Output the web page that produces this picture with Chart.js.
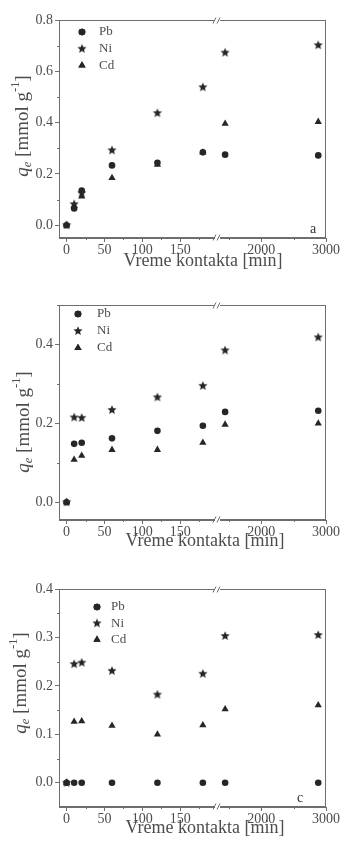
<!DOCTYPE html>
<html lang="sr">
<head>
<meta charset="UTF-8">
<title>Vreme kontakta</title>
<script src="https://cdn.jsdelivr.net/npm/chart.js@4.4.1/dist/chart.umd.min.js"></script>
<style>
  body { margin: 0; background: #fff; }
  .panel { position: absolute; left: 0; width: 345px; }
  canvas { display: block; }
</style>
</head>
<body>
<div class="panel" style="top:0"><canvas id="chartA" width="345" height="280"></canvas></div>
<div class="panel" style="top:280px"><canvas id="chartB" width="345" height="280"></canvas></div>
<div class="panel" style="top:560px"><canvas id="chartC" width="345" height="285"></canvas></div>

<script>
// contact time [min]
const times = [0, 10, 20, 60, 120, 180, 1440, 2880];
const breakTime = 200;   // x axis is broken after 200 min

// q [mmol/g], panel a
const pbA = [0.0, 0.065, 0.135, 0.233, 0.243, 0.284, 0.275, 0.272];
const niA = [0.0, 0.082, 0.125, 0.292, 0.437, 0.538, 0.673, 0.702];
const cdA = [0.0, 0.075, 0.112, 0.184, 0.236, 0.284, 0.396, 0.403];
// panel b
const pbB = [0.0, 0.148, 0.151, 0.162, 0.181, 0.194, 0.229, 0.232];
const niB = [0.0, 0.215, 0.214, 0.234, 0.266, 0.295, 0.385, 0.418];
const cdB = [0.0, 0.108, 0.118, 0.133, 0.133, 0.151, 0.197, 0.200];
// panel c
const pbC = [0.0, 0.0, 0.0, 0.0, 0.0, 0.0, 0.0, 0.0];
const niC = [0.0, 0.245, 0.248, 0.231, 0.182, 0.225, 0.303, 0.305];
const cdC = [0.0, 0.126, 0.127, 0.118, 0.100, 0.119, 0.152, 0.160];

const metals = ['Pb', 'Ni', 'Cd'];
const leftTickLabels = [0, 50, 100, 150];
const rightTickLabels = [2000, 3000];
const yLabelsA = [0.0, 0.2, 0.4, 0.6, 0.8];
const yLabelsB = [0.0, 0.2, 0.4];
const yLabelsC = [0.0, 0.1, 0.2, 0.3, 0.4];

const serif = "'Liberation Serif', 'DejaVu Serif', serif";
const axisColor = '#6e6e6e';
const textColor = '#4d4d4d';
const markerColor = '#262626';

// filled five point star, Chart.js only has the line version
function makeStar(r, color) {
    const c = document.createElement('canvas');
    const s = Math.ceil(r * 2) + 2;
    c.width = c.height = s;
    const g = c.getContext('2d');
    g.fillStyle = color;
    g.beginPath();
    for (let i = 0; i < 10; i++) {
        const rr = i % 2 ? r * 0.45 : r;
        const a = -Math.PI / 2 + i * Math.PI / 5;
        g.lineTo(s / 2 + rr * Math.cos(a), s / 2 + rr * Math.sin(a));
    }
    g.closePath();
    g.fill();
    return c;
}

const pointStyles = { Pb: 'circle', Ni: makeStar(4.8, markerColor), Cd: 'triangle' };
const pointSizes = { Pb: 3.3, Ni: 4.5, Cd: 4.2 };

function seriesData(values, left) {
    return times.map((t, i) => ({ x: t, y: values[i] }))
        .filter(p => left ? p.x <= breakTime : p.x > breakTime);
}

// every metal gets one dataset per axis segment
function buildDatasets(series) {
    const out = [];
    metals.forEach((m, k) => {
        ['xL', 'xR'].forEach(axis => {
            out.push({
                label: m,
                data: seriesData(series[k], axis === 'xL'),
                xAxisID: axis,
                yAxisID: 'y',
                pointStyle: pointStyles[m],
                pointRadius: pointSizes[m],
                backgroundColor: markerColor,
                borderColor: markerColor,
                borderWidth: 0,
                showLine: false
            });
        });
    });
    return out;
}

function inList(list, v) {
    return list.some(l => Math.abs(l - v) < 1e-6);
}

// major + minor tick positions; the narrow segments would otherwise get thinned out
function stepTicks(from, to, step) {
    const t = [];
    for (let v = from; v <= to + step / 1000; v += step) {
        t.push({ value: Math.round(v * 1000) / 1000 });
    }
    return t;
}

function drawRich(ctx, runs, size) {
    // runs drawn left to right on current baseline
    let w = 0;
    runs.forEach(r => {
        ctx.font = (r.italic ? 'italic ' : '') + (r.small ? size * 0.65 : size) + 'px ' + serif;
        r.w = ctx.measureText(r.t).width;
        w += r.w;
    });
    let x = -w / 2;
    runs.forEach(r => {
        ctx.font = (r.italic ? 'italic ' : '') + (r.small ? size * 0.65 : size) + 'px ' + serif;
        ctx.fillText(r.t, x, r.dy || 0);
        x += r.w;
    });
}

const panelDecor = {
    id: 'panelDecor',
    afterDraw(chart, args, o) {
        const ctx = chart.ctx;
        const a = chart.chartArea;
        const L = Math.round(a.left) + 0.5, T = Math.round(a.top) + 0.5;
        const R = Math.round(a.right) - 0.5, B = Math.round(a.bottom) - 0.5;
        ctx.save();

        // frame
        ctx.strokeStyle = axisColor;
        ctx.lineWidth = 1;
        ctx.strokeRect(L, T, R - L, B - T);

        // short minor ticks (the major ones come from the scales)
        ctx.beginPath();
        const ys = chart.scales.y;
        ys.ticks.forEach(t => {
            if (inList(o.yLabels, t.value)) return;
            const py = Math.round(ys.getPixelForValue(t.value)) + 0.5;
            ctx.moveTo(L - 2.5, py); ctx.lineTo(L, py);
        });
        [['xL', leftTickLabels], ['xR', rightTickLabels]].forEach(([id, labels]) => {
            const xs = chart.scales[id];
            xs.ticks.forEach(t => {
                if (inList(labels, t.value)) return;
                const px = Math.round(xs.getPixelForValue(t.value)) + 0.5;
                ctx.moveTo(px, B); ctx.lineTo(px, B + 2.5);
            });
        });
        ctx.stroke();

        // break marks on top and bottom edge
        const bx = Math.round(chart.scales.xR.left);
        [T, B].forEach(y => {
            ctx.fillStyle = '#fff';
            ctx.fillRect(bx - 3, y - 2, 5, 4);
            ctx.beginPath();
            ctx.moveTo(bx - 5, y + 3); ctx.lineTo(bx - 2, y - 3);
            ctx.moveTo(bx - 1, y + 3); ctx.lineTo(bx + 2, y - 3);
            ctx.stroke();
        });

        // legend inside the plot
        ctx.font = '13px ' + serif;
        ctx.textBaseline = 'middle';
        ctx.textAlign = 'left';
        metals.forEach((m, i) => {
            const y = o.legendY + i * o.legendGap;
            ctx.fillStyle = markerColor;
            Chart.helpers.drawPoint(ctx, {
                pointStyle: pointStyles[m], radius: pointSizes[m], rotation: 0, borderWidth: 0
            }, o.legendX, y);
            ctx.fill();
            ctx.fillStyle = textColor;
            ctx.fillText(m, o.legendTextX, y);
        });

        // panel letter
        if (o.letter) {
            ctx.font = '14px ' + serif;
            ctx.textAlign = 'center';
            ctx.fillStyle = '#333';
            ctx.fillText(o.letter, o.letterX, o.letterY);
        }

        // x title
        ctx.font = '18px ' + serif;
        ctx.textAlign = 'center';
        ctx.textBaseline = 'middle';
        ctx.fillStyle = textColor;
        ctx.fillText('Vreme kontakta [min]', o.xTitleX, o.xTitleY);

        // y title, q_e [mmol g^-1]
        ctx.translate(o.yTitleX, o.yTitleY);
        ctx.rotate(-Math.PI / 2);
        ctx.textAlign = 'left';
        drawRich(ctx, [
            { t: 'q', italic: true },
            { t: 'e', italic: true, small: true, dy: 5 },
            { t: ' [mmol g' },
            { t: '-1', small: true, dy: -7 },
            { t: ']' }
        ], 19);
        ctx.restore();
    }
};

function makeChart(id, cfg) {
    const tickFont = { family: serif, size: 14 };
    // scale ticks only for labelled values, minor ones are drawn by panelDecor
    const grid = labels => ({
        drawOnChartArea: false,
        drawTicks: true,
        tickLength: 4,
        color: axisColor,
        tickColor: c => (c.tick && inList(labels, c.tick.value)) ? axisColor : 'rgba(0,0,0,0)'
    });
    const border = { display: true, color: axisColor, width: 1 };
    const xTicks = labels => ({
        autoSkip: false,
        maxRotation: 0,
        minRotation: 0,
        padding: 0,
        color: textColor,
        font: tickFont,
        callback: v => inList(labels, v) ? String(v) : ''
    });
    cfg.decor.yLabels = cfg.yLabels;
    new Chart(document.getElementById(id), {
        type: 'scatter',
        data: { datasets: buildDatasets(cfg.series) },
        options: {
            responsive: false,
            animation: false,
            events: [],
            layout: { padding: { left: 0, right: 19, top: cfg.top, bottom: cfg.bottomPad } },
            plugins: {
                legend: { display: false },
                tooltip: { enabled: false },
                panelDecor: cfg.decor
            },
            scales: {
                y: {
                    type: 'linear',
                    position: 'left',
                    min: cfg.yMin,
                    max: cfg.yMax,
                    afterFit: s => { s.width = 59; },
                    afterBuildTicks: s => { s.ticks = stepTicks(0, cfg.yMax, cfg.yStep); },
                    border: border,
                    grid: grid(cfg.yLabels),
                    ticks: {
                        autoSkip: false,
                        padding: 2,
                        color: textColor,
                        font: tickFont,
                        callback: v => inList(cfg.yLabels, v) ? v.toFixed(1) : ''
                    }
                },
                xL: {
                    type: 'linear',
                    position: 'bottom',
                    stack: 'time',
                    stackWeight: 159,
                    min: -10,
                    max: breakTime,
                    afterFit: s => { s.height = 22; },
                    afterBuildTicks: s => { s.ticks = stepTicks(0, 175, 25); },
                    border: border,
                    grid: grid(leftTickLabels),
                    ticks: xTicks(leftTickLabels)
                },
                xR: {
                    type: 'linear',
                    position: 'bottom',
                    stack: 'time',
                    stackWeight: 108,
                    min: 1330,
                    max: 3000,
                    afterFit: s => { s.height = 22; },
                    afterBuildTicks: s => { s.ticks = stepTicks(1500, 3000, 500); },
                    border: border,
                    grid: grid(rightTickLabels),
                    ticks: xTicks(rightTickLabels)
                }
            }
        },
        plugins: [panelDecor]
    });
}

makeChart('chartA', {
    series: [pbA, niA, cdA],
    top: 20, bottomPad: 20,
    yMin: -0.05, yMax: 0.8, yStep: 0.1, yLabels: yLabelsA,
    decor: {
        legendX: 82, legendY: 32, legendGap: 16.7, legendTextX: 99,
        letter: 'a', letterX: 313, letterY: 229,
        xTitleX: 203, xTitleY: 261,
        yTitleX: 23, yTitleY: 126
    }
});

makeChart('chartB', {
    series: [pbB, niB, cdB],
    top: 25, bottomPad: 18,
    yMin: -0.045, yMax: 0.5, yStep: 0.1, yLabels: yLabelsB,
    decor: {
        legendX: 78, legendY: 34, legendGap: 17, legendTextX: 97,
        letter: '', letterX: 0, letterY: 0,
        xTitleX: 205, xTitleY: 261,
        yTitleX: 24, yTitleY: 142
    }
});

makeChart('chartC', {
    series: [pbC, niC, cdC],
    top: 29, bottomPad: 16,
    yMin: -0.05, yMax: 0.4, yStep: 0.05, yLabels: yLabelsC,
    decor: {
        legendX: 97, legendY: 47, legendGap: 16.3, legendTextX: 111,
        letter: 'c', letterX: 300, letterY: 238,
        xTitleX: 205, xTitleY: 268,
        yTitleX: 21, yTitleY: 123
    }
});
</script>
</body>
</html>
